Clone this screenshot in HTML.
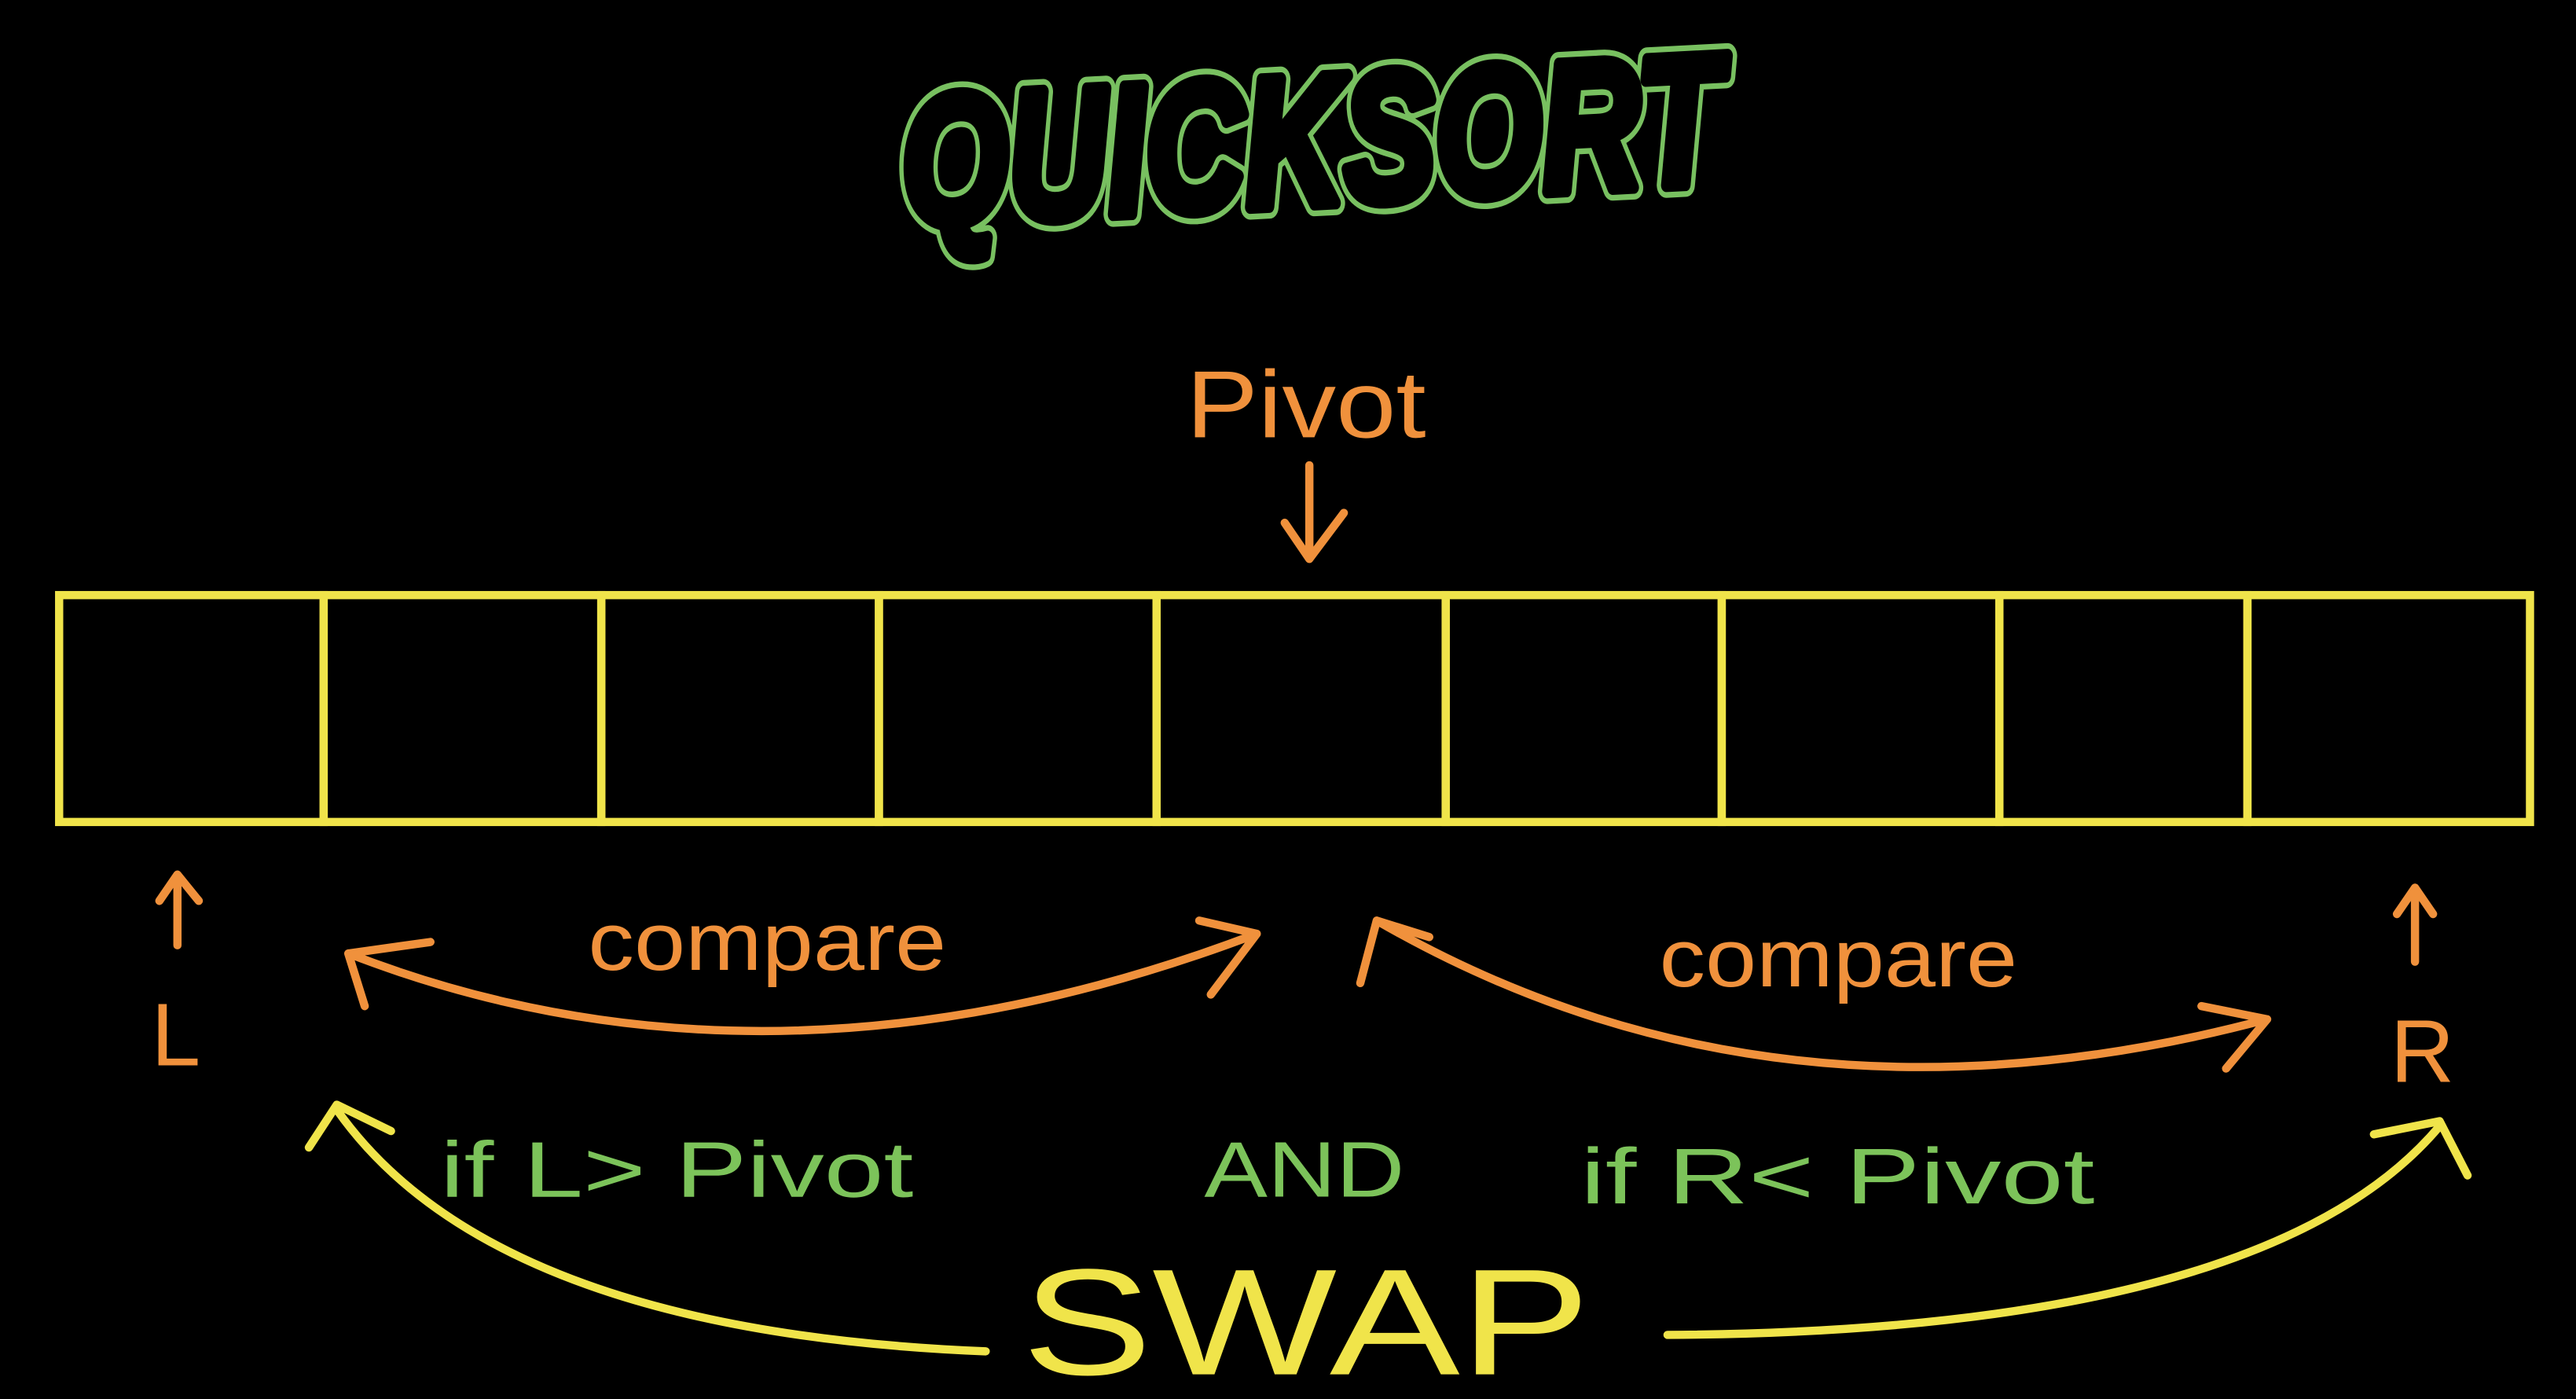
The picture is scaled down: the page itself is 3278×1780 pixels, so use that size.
<!DOCTYPE html>
<html><head><meta charset="utf-8"><style>
html,body{margin:0;padding:0;background:#000;width:3278px;height:1780px;overflow:hidden}
svg{display:block}
text{font-family:"Liberation Sans",sans-serif}
</style></head><body>
<svg width="3278" height="1780" viewBox="0 0 1568 851" preserveAspectRatio="none">
<rect width="1568" height="851" fill="#000"/>
<g transform="rotate(-3 800 80)">
<text x="548" y="124" font-size="112" font-weight="bold" font-style="italic" fill="#78c060" stroke="#78c060" stroke-width="15" stroke-linejoin="round" textLength="500" lengthAdjust="spacingAndGlyphs">QUICKSORT</text>
<text x="548" y="124" font-size="112" font-weight="bold" font-style="italic" fill="#000" stroke="#000" stroke-width="8" stroke-linejoin="round" textLength="500" lengthAdjust="spacingAndGlyphs">QUICKSORT</text>
</g>
<text x="722" y="266" font-size="58" fill="#f0913c" textLength="146" lengthAdjust="spacingAndGlyphs">Pivot</text>
<g fill="none" stroke="#f0913c" stroke-width="5" stroke-linecap="round" stroke-linejoin="round">
<path d="M797 283 L797 340 M782 318 L797 340 L818 312"/>
<path d="M108 575 L108 532 M97 548 L108 532 L121 548"/>
<path d="M1470 585 L1470 540 M1459 556 L1470 540 L1481 556"/>
<path d="M212 580 Q470 680 765 568 M262 573 L212 580 L222 612 M730 560 L765 568 L737 605"/>
<path d="M838 560 Q1080 700 1380 620 M828 598 L838 560 L870 570 M1340 612 L1380 620 L1355 650"/>
</g>
<g id="cells" fill="none" stroke="#f0e44a" stroke-width="5"></g>
<text x="358" y="590" font-size="50" fill="#f0913c" textLength="218" lengthAdjust="spacingAndGlyphs">compare</text>
<text x="1010" y="600" font-size="50" fill="#f0913c" textLength="218" lengthAdjust="spacingAndGlyphs">compare</text>
<text x="92" y="648" font-size="54" fill="#f0913c">L</text>
<text x="1455" y="658" font-size="54" fill="#f0913c">R</text>
<text x="268" y="728" font-size="48" fill="#7cc35a" textLength="288" lengthAdjust="spacingAndGlyphs">if L&gt; Pivot</text>
<text x="733" y="728" font-size="48" fill="#7cc35a" textLength="122" lengthAdjust="spacingAndGlyphs">AND</text>
<text x="962" y="732" font-size="48" fill="#7cc35a" textLength="313" lengthAdjust="spacingAndGlyphs">if R&lt; Pivot</text>
<text x="622" y="836" font-size="92" fill="#f0e44a" textLength="346" lengthAdjust="spacingAndGlyphs">SWAP</text>
<g fill="none" stroke="#f0e44a" stroke-width="5" stroke-linecap="round" stroke-linejoin="round">
<path d="M600 822 Q300 810 205 675 M188 698 L205 672 L238 688"/>
<path d="M1015 812 Q1380 810 1485 685 M1445 690 L1485 682 L1502 715"/>
</g>
</svg>
<script>
const cellEdges = [36, 197, 366, 535, 704, 880, 1048, 1217, 1368, 1540];
const g = document.getElementById('cells');
const ns = 'http://www.w3.org/2000/svg';
for (let i = 0; i < cellEdges.length - 1; i++) {
  const r = document.createElementNS(ns, 'rect');
  r.setAttribute('x', cellEdges[i]);
  r.setAttribute('y', 362);
  r.setAttribute('width', cellEdges[i+1] - cellEdges[i]);
  r.setAttribute('height', 138);
  
  
  g.appendChild(r);
}
</script>
</body></html>
